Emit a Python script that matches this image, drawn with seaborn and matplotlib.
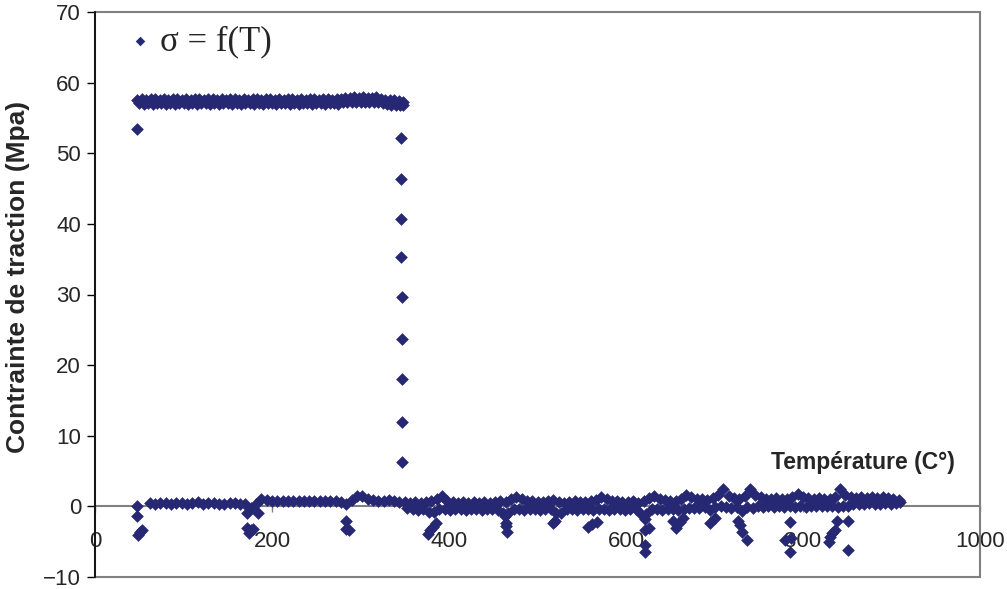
import pandas as pd
import matplotlib
matplotlib.use("Agg")
import matplotlib.pyplot as plt
import seaborn as sns
from matplotlib.patches import Rectangle

# palier haut (contrainte constante avant rupture)
plateau_T = [48, 53, 58, 63, 68, 73, 78, 83, 88, 93, 98, 103, 108, 113, 118, 123,
             128, 133, 138, 143, 148, 153, 158, 163, 168, 173, 178, 183, 188, 193,
             198, 203, 208, 213, 218, 223, 228, 233, 238, 243, 248, 253, 258, 263,
             268, 273, 278, 283, 288, 293, 298, 303, 308, 313, 318, 323, 328, 333,
             338, 343, 348]
plateau_hi = [57.6, 57.7, 57.6, 57.7, 57.7, 57.6, 57.7, 57.6, 57.7, 57.7, 57.6, 57.7,
              57.6, 57.7, 57.7, 57.6, 57.7, 57.7, 57.6, 57.7, 57.6, 57.7, 57.7, 57.6,
              57.7, 57.6, 57.7, 57.7, 57.6, 57.7, 57.7, 57.6, 57.7, 57.6, 57.7, 57.7,
              57.6, 57.7, 57.6, 57.7, 57.7, 57.6, 57.7, 57.7, 57.6, 57.7, 57.7, 57.8,
              57.8, 57.9, 57.8, 57.9, 57.8, 57.8, 57.9, 57.7, 57.6, 57.5, 57.5, 57.4,
              57.3]
plateau_lo_T = [50, 55, 60, 65, 70, 75, 80, 85, 90, 95, 100, 105, 110, 115, 120, 125,
                130, 135, 140, 145, 150, 155, 160, 165, 170, 175, 180, 185, 190, 195,
                200, 205, 210, 215, 220, 225, 230, 235, 240, 245, 250, 255, 260, 265,
                270, 275, 280, 285, 290, 295, 300, 305, 310, 315, 320, 325, 330, 335,
                340, 345, 348]
plateau_lo = [57.1, 57.0, 57.1, 57.0, 57.1, 57.1, 57.0, 57.1, 57.0, 57.1, 57.1, 57.0,
              57.1, 57.0, 57.1, 57.1, 57.0, 57.1, 57.0, 57.1, 57.1, 57.0, 57.1, 57.0,
              57.1, 57.1, 57.0, 57.1, 57.0, 57.1, 57.1, 57.0, 57.1, 57.1, 57.0, 57.1,
              57.0, 57.1, 57.1, 57.0, 57.1, 57.1, 57.0, 57.1, 57.1, 57.0, 57.2, 57.2,
              57.3, 57.3, 57.2, 57.3, 57.2, 57.3, 57.2, 57.1, 57.0, 56.9, 56.8, 56.9,
              56.8]

# chute brutale
drop_T = [48, 346, 346, 346, 346, 347, 347, 347, 347, 347]
drop_sig = [53.5, 52.2, 46.4, 40.7, 35.3, 29.6, 23.7, 18.0, 12.0, 6.3]

# ligne basse clairsemee (avant rupture)
row_T = [62, 68, 74, 80, 86, 92, 98, 104, 110, 116, 122, 128, 134, 140, 146, 152,
         158, 164, 170, 176, 182, 188, 194, 200, 206, 212, 218, 224, 230, 236, 242,
         248, 254, 260, 266, 272, 278, 284, 290, 296, 302, 308, 314, 320, 326, 332,
         338, 344]
row_sig = [0.5, 0.4, 0.5, 0.5, 0.4, 0.5, 0.5, 0.4, 0.5, 0.6, 0.4, 0.5, 0.5, 0.4,
           0.4, 0.5, 0.5, 0.4, 0.3, -0.2, 0.4, 1.1, 0.9, 0.8, 0.8, 0.7, 0.8, 0.7,
           0.8, 0.8, 0.7, 0.8, 0.7, 0.8, 0.7, 0.7, 0.6, 0.3, 0.9, 1.4, 1.4, 1.1, 0.9,
           0.8, 0.8, 0.9, 0.8, 0.6]

# bande dense apres rupture
band_T = [350, 356, 362, 368, 374, 380, 386, 392, 398, 404, 410, 416, 422, 428, 434,
          440, 446, 452, 458, 464, 470, 476, 482, 488, 494, 500, 506, 512, 518, 524,
          530, 536, 542, 548, 554, 560, 566, 572, 578, 584, 590, 596, 602, 608, 614,
          620, 626, 632, 638, 644, 650, 656, 662, 668, 674, 680, 686, 692, 698, 704,
          710, 716, 722, 728, 734, 740, 746, 752, 758, 764, 770, 776, 782, 788, 794,
          800, 806, 812, 818, 824, 830, 836, 842, 848, 854, 860, 866, 872, 878, 884,
          890, 896, 902, 908]
band_hi = [0.6, 0.5, 0.6, 0.5, 0.6, 0.7, 1.0, 1.5, 0.8, 0.6, 0.5, 0.6, 0.5, 0.6, 0.5,
           0.6, 0.5, 0.6, 0.7, 0.6, 1.0, 1.3, 1.0, 0.8, 0.7, 0.6, 0.6, 0.7, 0.9, 0.6,
           0.5, 0.6, 0.7, 0.6, 0.6, 0.7, 0.9, 1.3, 1.1, 0.8, 0.7, 0.6, 0.6, 0.7, 0.5,
           0.8, 1.2, 1.4, 1.1, 0.9, 0.7, 0.8, 1.1, 1.6, 1.3, 1.1, 1.0, 0.9, 1.2, 1.6,
           2.4, 1.5, 1.2, 1.0, 1.5, 2.4, 1.6, 1.3, 1.1, 1.0, 1.2, 1.1, 1.0, 1.3, 1.8,
           1.3, 1.2, 1.1, 1.2, 1.1, 1.0, 1.3, 2.4, 1.6, 1.3, 1.2, 1.3, 1.2, 1.3, 1.2,
           1.3, 1.2, 1.1, 0.9]
band_lo_T = [353, 359, 365, 371, 377, 383, 389, 395, 401, 407, 413, 419, 425, 431,
             437, 443, 449, 455, 461, 467, 473, 479, 485, 491, 497, 503, 509, 515,
             521, 527, 533, 539, 545, 551, 557, 563, 569, 575, 581, 587, 593, 599,
             605, 611, 617, 623, 629, 635, 641, 647, 653, 659, 665, 671, 677, 683,
             689, 695, 701, 707, 713, 719, 725, 731, 737, 743, 749, 755, 761, 767,
             773, 779, 785, 791, 797, 803, 809, 815, 821, 827, 833, 839, 845, 851,
             857, 863, 869, 875, 881, 887, 893, 899, 905, 910]
band_lo = [-0.2, -0.4, -0.5, -0.4, -0.8, -0.8, -0.4, -0.4, -0.5, -0.4, -0.4, -0.5,
           -0.4, -0.4, -0.5, -0.4, -0.4, -0.5, -1.0, -1.0, -0.4, -0.4, -0.5, -0.4,
           -0.4, -0.5, -0.4, -0.4, -0.9, -0.9, -0.4, -0.4, -0.5, -0.4, -0.4, -0.5,
           -0.4, -0.4, -0.5, -0.4, -0.4, -0.5, -0.4, -0.4, -1.1, -1.1, -0.4, -0.4,
           -0.5, -0.4, -0.4, -0.5, -0.4, -0.3, -0.3, -0.2, -0.1, -0.5, -0.1, 0.0, -0.1,
           -0.2, -0.1, -0.6, -0.1, -0.3, 0.0, -0.1, 0.0, -0.1, 0.0, -0.1, 0.0, -0.1,
           0.0, -0.1, 0.0, 0.1, 0.0, 0.1, 0.0, -0.1, 0.1, 0.0, 0.3, 0.4, 0.3, 0.5,
           0.4, 0.3, 0.5, 0.4, 0.5, 0.6]

# points isoles sous l'axe
out_T = [48, 48, 49, 51, 53, 172, 172, 174, 176, 179, 184, 284, 284, 287, 376, 379,
         382, 385, 463, 464, 464, 465, 517, 520, 557, 562, 567, 621, 621, 621, 621,
         626, 653, 657, 661, 664, 695, 700, 726, 729, 731, 737, 780, 785, 785, 787,
         829, 831, 833, 836, 838, 851, 851]
out_sig = [0.0, -1.3, -4.1, -3.6, -3.3, -1.0, -3.0, -3.8, -3.4, -3.2, -1.0, -2.0,
           -3.2, -3.4, -3.9, -3.4, -2.9, -2.4, -1.4, -2.3, -2.8, -3.6, -2.4, -2.1,
           -2.9, -2.5, -2.2, -1.8, -3.4, -5.5, -6.5, -3.0, -2.0, -3.0, -2.2, -1.6,
           -2.4, -1.7, -2.0, -2.7, -3.6, -4.8, -4.8, -2.2, -6.5, -4.5, -5.0, -4.3,
           -3.8, -3.4, -2.0, -2.0, -6.2]

x_ticks = [0, 200, 400, 600, 800, 1000]
y_ticks = [-10, 0, 10, 20, 30, 40, 50, 60, 70]

COLOR = "#262874"
GREY = "#808080"

df = pd.DataFrame({
    "T": plateau_T + plateau_lo_T + drop_T + row_T + band_T + band_lo_T + out_T,
    "sigma": plateau_hi + plateau_lo + drop_sig + row_sig + band_hi + band_lo + out_sig,
})

sns.set_theme(style="white")
plt.rcParams["font.family"] = ["Liberation Sans", "DejaVu Sans"]

fig = plt.figure(figsize=(10.07, 5.89), dpi=100)
ax = fig.add_axes([95 / 1007, 12 / 589, 885 / 1007, 565 / 589])

sns.scatterplot(data=df, x="T", y="sigma", marker="D", s=42, color=COLOR,
                linewidth=0, label="σ = f(T)", ax=ax, zorder=3)

ax.set_xlim(0, 1000)
ax.set_ylim(-10, 70)

# cadre gris de la zone de tracé
for side in ["top", "right"]:
    ax.spines[side].set_visible(False)
ax.add_patch(Rectangle((0, 0), 1, 1, transform=ax.transAxes, fill=False,
                       ec=GREY, lw=1.5, clip_on=False, zorder=1))
ax.spines["left"].set_color("black")
ax.spines["left"].set_linewidth(1.2)
ax.spines["left"].set_zorder(4)

# axe des x qui croise en 0
ax.spines["bottom"].set_position(("data", 0))
ax.spines["bottom"].set_color(GREY)
ax.spines["bottom"].set_linewidth(1.5)
ax.set_xticks(x_ticks)
ax.set_yticks(y_ticks)
ax.tick_params(axis="y", direction="out", length=6, width=1, color="black",
               labelsize=16, pad=4, left=True)
ax.tick_params(axis="x", direction="out", length=4, width=1, color=GREY,
               labelsize=16, pad=14, bottom=True)

ax.set_xlabel("Température (C°)", fontsize=16.5, fontweight="bold",
              ha="right", va="center")
ax.xaxis.set_label_coords(0.972, 0.202)
ax.set_ylabel("Contrainte de traction (Mpa)", fontsize=19, fontweight="bold",
              va="center")
ax.yaxis.set_label_coords(-0.087, 0.531)

ax.legend(loc="center left", bbox_to_anchor=(0.043, 0.947), frameon=False,
          prop={"family": ["Liberation Serif", "DejaVu Serif"], "size": 25},
          handlelength=0.4, handletextpad=0.37, borderpad=0, borderaxespad=0,
          markerscale=0.75)

fig.savefig("out.png", dpi=100)
